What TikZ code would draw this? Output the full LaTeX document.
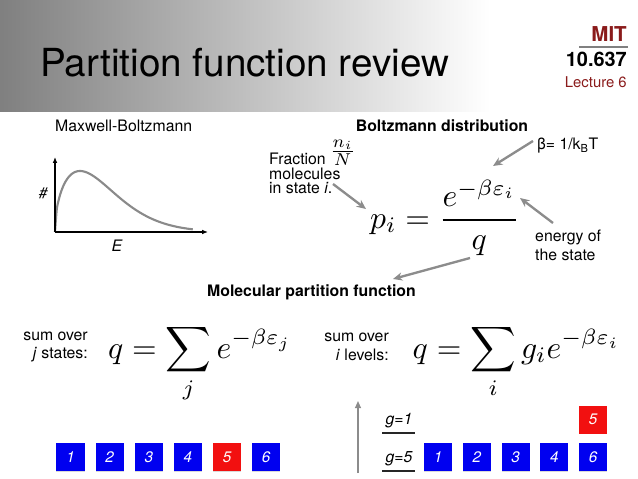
\documentclass[tikz,border=0pt]{standalone}
\usepackage{amsmath}
\usepackage{graphicx}
\usepackage[no-math]{fontspec}
\setmainfont{TeX Gyre Heros}
\usetikzlibrary{arrows.meta,positioning,shadows}
\definecolor{mitred}{HTML}{8A1B1B}
\definecolor{boxblue}{HTML}{0000F0}
\definecolor{boxred}{HTML}{F21010}
\definecolor{pointer}{HTML}{8C8C8C}
\definecolor{curvegray}{HTML}{8A8A8A}
\newcommand{\bigeq}[1]{\scalebox{2.7}{\fontsize{10}{12}\selectfont$\displaystyle #1$}}
\tikzset{
  txt/.style={inner sep=0pt, font=\fontsize{13.5}{16}\selectfont},
  head/.style={inner sep=0pt, font=\fontsize{13.5}{16}\selectfont\bfseries},
  bigmath/.style={inner sep=0pt},
  axis/.style={line width=1pt, -{Latex[length=5pt,width=4pt]}},
  pointto/.style={pointer, line width=2pt, -{Stealth[length=8pt,width=7pt]}},
  levelline/.style={black!85, line width=1.6pt},
  statebox/.style={minimum width=0.84cm, minimum height=0.84cm, inner sep=0pt,
    fill=boxblue, text=white, font=\fontsize{13}{15}\selectfont\itshape,
    drop shadow={shadow xshift=0pt, shadow yshift=-0.8pt, opacity=0.3}},
  redbox/.style={statebox, fill=boxred}
}

\begin{document}
\begin{tikzpicture}[x=0.03cm, y=-0.03cm]
\useasboundingbox (0,0) rectangle (638,479);
% header band
\shade[left color=gray, right color=white] (0,0) rectangle (490,112);
\node[anchor=base west, inner sep=0pt, font=\fontsize{33}{38}\selectfont] (title) at (40,77) {Partition function review};
\node[anchor=base east, inner sep=0pt, text=mitred, font=\fontsize{17.5}{20}\selectfont\bfseries] (mit) at (627,42) {MIT};
\draw[gray, line width=1.7pt] (579,47) -- (628,47);
\node[anchor=base east, inner sep=0pt, font=\fontsize{17}{20}\selectfont\bfseries] (course) at (627,67) {10.637};
\node[anchor=base east, inner sep=0pt, text=mitred, font=\fontsize{12.7}{15}\selectfont] (lecture) at (627,88) {Lecture 6};

% Maxwell-Boltzmann sketch
\node[txt, anchor=west] (mb) at (55,126) {Maxwell-Boltzmann};
\coordinate (O) at (55,232);
\coordinate (ytop) at (55,157);
\coordinate (xend) at (208,232);
\draw[curvegray, line width=1.8pt] plot[domain=0:2.65, samples=80, smooth] ({55+52*\x}, {232-122.8*sqrt(\x)*exp(-pow(\x,1.5))});
\draw[axis] (O) -- (ytop);
\draw[axis] (O) -- (xend);
\node[txt, font=\fontsize{13}{15}\selectfont\itshape] (count) at (43,193) {\#};
\node[txt, font=\fontsize{13.5}{16}\selectfont\itshape] (energyaxis) at (117,246) {E};

% Boltzmann distribution
\node[head] (bd) at (442,126) {Boltzmann distribution};
\node[txt, anchor=base west] (fraction) at (269,164.5) {Fraction};
\node[inner sep=0pt, anchor=west] (ni) at ([xshift=3pt, yshift=5pt]fraction.east) {\scalebox{2.1}{\fontsize{10}{12}\selectfont$\frac{n_i}{N}$}};
\node[txt, anchor=base west] (molecules) at (269,179) {molecules};
\node[txt, anchor=base west] (instate) at (269,193.5) {in state \textit{i}.};
\node[txt, anchor=west] (beta) at (537,146) {β= 1/k\textsubscript{B}T};
\node[txt, anchor=north west, align=left] (energy) at (535,230) {energy of\\the state};
\node[bigmath, anchor=base] (peq) at (445,228) {\bigeq{p_i=\frac{e^{-\beta\varepsilon_i}}{q}}};
\coordinate (a1) at (333,184); \coordinate (b1) at (366,209);
\coordinate (a2) at (533,141); \coordinate (b2) at (493,166);
\coordinate (a3) at (553,223); \coordinate (b3) at (520,198);
\coordinate (a4) at (470,258); \coordinate (b4) at (393,279);
\draw[pointto] (a1) -- (b1);
\draw[pointto] (a2) -- (b2);
\draw[pointto] (a3) -- (b3);
\draw[pointto] (a4) -- (b4);

% partition functions
\node[head] (mpf) at (311.5,292) {Molecular partition function};
\node[txt, anchor=east, align=right] (sumj) at (88,347) {sum over\\\textit{j} states:};
\node[bigmath, anchor=base] (qj) at (200,358) {\bigeq{q=\sum_j e^{-\beta\varepsilon_j}}};
\node[txt, anchor=east, align=right] (sumi) at (389,347) {sum over\\\textit{i} levels:};
\node[bigmath, anchor=base] (qi) at (516.5,358) {\bigeq{q=\sum_i g_i e^{-\beta\varepsilon_i}}};

% states
\begin{scope}[node distance=0.32cm]
\node[statebox] (s1) at (70.5,457) {1};
\node[statebox, right=of s1] (s2) {2};
\node[statebox, right=of s2] (s3) {3};
\node[statebox, right=of s3] (s4) {4};
\node[redbox, right=of s4] (s5) {5};
\node[statebox, right=of s5] (s6) {6};
\end{scope}

% levels
\coordinate (lvbot) at (358,473);
\coordinate (lvtop) at (358,401);
\draw[pointer, line width=1.2pt, -{Triangle[length=6pt,width=5pt]}] (lvbot) -- (lvtop);
\node[txt, font=\fontsize{13.5}{16}\selectfont\itshape] (gone) at (399,421) {g=1};
\draw[levelline] (382,433) -- (415,433);
\node[txt, font=\fontsize{13.5}{16}\selectfont\itshape] (gfive) at (399,459) {g=5};
\draw[levelline] (382,471) -- (415,471);
\begin{scope}[node distance=0.31cm]
\node[statebox] (l1) at (438,457) {1};
\node[statebox, right=of l1] (l2) {2};
\node[statebox, right=of l2] (l3) {3};
\node[statebox, right=of l3] (l4) {4};
\node[statebox, right=of l4] (l6) {6};
\node[redbox, above=0.27cm of l6] (l5) {5};
\end{scope}
\end{tikzpicture}
\end{document}
